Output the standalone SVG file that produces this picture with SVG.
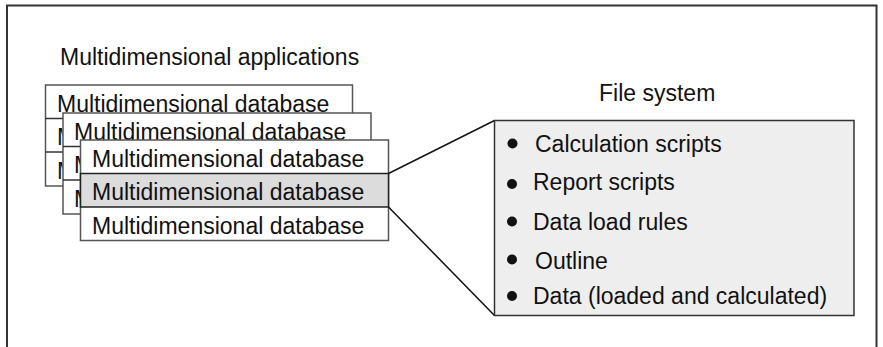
<svg xmlns="http://www.w3.org/2000/svg" width="883" height="347" viewBox="0 0 883 347">
<style>
text{font-family:"Liberation Sans",Arial,sans-serif;font-size:23px;fill:#111}
.box{fill:#fff;stroke:#555;stroke-width:1.5}
.row{stroke:#333;stroke-width:1.5}
.hl{fill:#dcdcdc;stroke:#222;stroke-width:1.5}
.conn{stroke:#111;stroke-width:1.5;fill:none}
.bul{fill:#111}
</style>
<defs>
<clipPath id="c1"><rect x="45" y="118" width="17.5" height="68"/></clipPath>
<clipPath id="c2"><rect x="62.5" y="146" width="17.5" height="68"/></clipPath>
</defs>
<rect x="0" y="0" width="883" height="347" fill="#fff"/>
<g id="frame"><path d="M7,360 V5.5 H876.5 V360" fill="none" stroke="#333" stroke-width="2"/></g>
<g id="title-apps"><text x="60" y="65">Multidimensional applications</text></g>
<g id="app1">
<rect class="box" x="45.5" y="85" width="307" height="101"/>
<line class="row" x1="45.5" y1="118.5" x2="352.5" y2="118.5"/>
<line class="row" x1="45.5" y1="152" x2="352.5" y2="152"/>
<text x="57" y="111.5">Multidimensional database</text>
<g clip-path="url(#c1)">
<text x="57" y="145">M</text>
<text x="57" y="178.5">M</text>
</g>
</g>
<g id="app2">
<rect class="box" x="63" y="113" width="308" height="101"/>
<line class="row" x1="63" y1="146.5" x2="371" y2="146.5"/>
<line class="row" x1="63" y1="180" x2="371" y2="180"/>
<text x="74" y="139.5">Multidimensional database</text>
<g clip-path="url(#c2)">
<text x="74" y="173">M</text>
<text x="74" y="206.5">M</text>
</g>
</g>
<g id="app3">
<rect class="box" x="80.5" y="140" width="308" height="100.5"/>
<rect class="hl" x="80.5" y="173.5" width="308" height="33.5"/>
<text x="92" y="166.5">Multidimensional database</text>
<text x="92" y="200">Multidimensional database</text>
<text x="92" y="233.5">Multidimensional database</text>
</g>
<g id="connectors">
<line class="conn" x1="388.5" y1="173.5" x2="494.5" y2="120.5"/>
<line class="conn" x1="388.5" y1="207" x2="494.5" y2="315.5"/>
</g>
<g id="title-fs"><text x="599" y="101">File system</text></g>
<g id="filesystem">
<rect x="494.5" y="120.5" width="359.5" height="195" fill="#eeeeee" stroke="#333" stroke-width="1.5"/>
<circle class="bul" cx="512.5" cy="143.5" r="5"/>
<text x="535" y="151.5">Calculation scripts</text>
<circle class="bul" cx="512" cy="184" r="5"/>
<text x="533" y="190">Report scripts</text>
<circle class="bul" cx="512" cy="221.5" r="5"/>
<text x="533" y="229.5">Data load rules</text>
<circle class="bul" cx="512" cy="259.5" r="5"/>
<text x="535" y="269">Outline</text>
<circle class="bul" cx="512" cy="296" r="5"/>
<text x="533" y="303.5">Data (loaded and calculated)</text>
</g>
</svg>
